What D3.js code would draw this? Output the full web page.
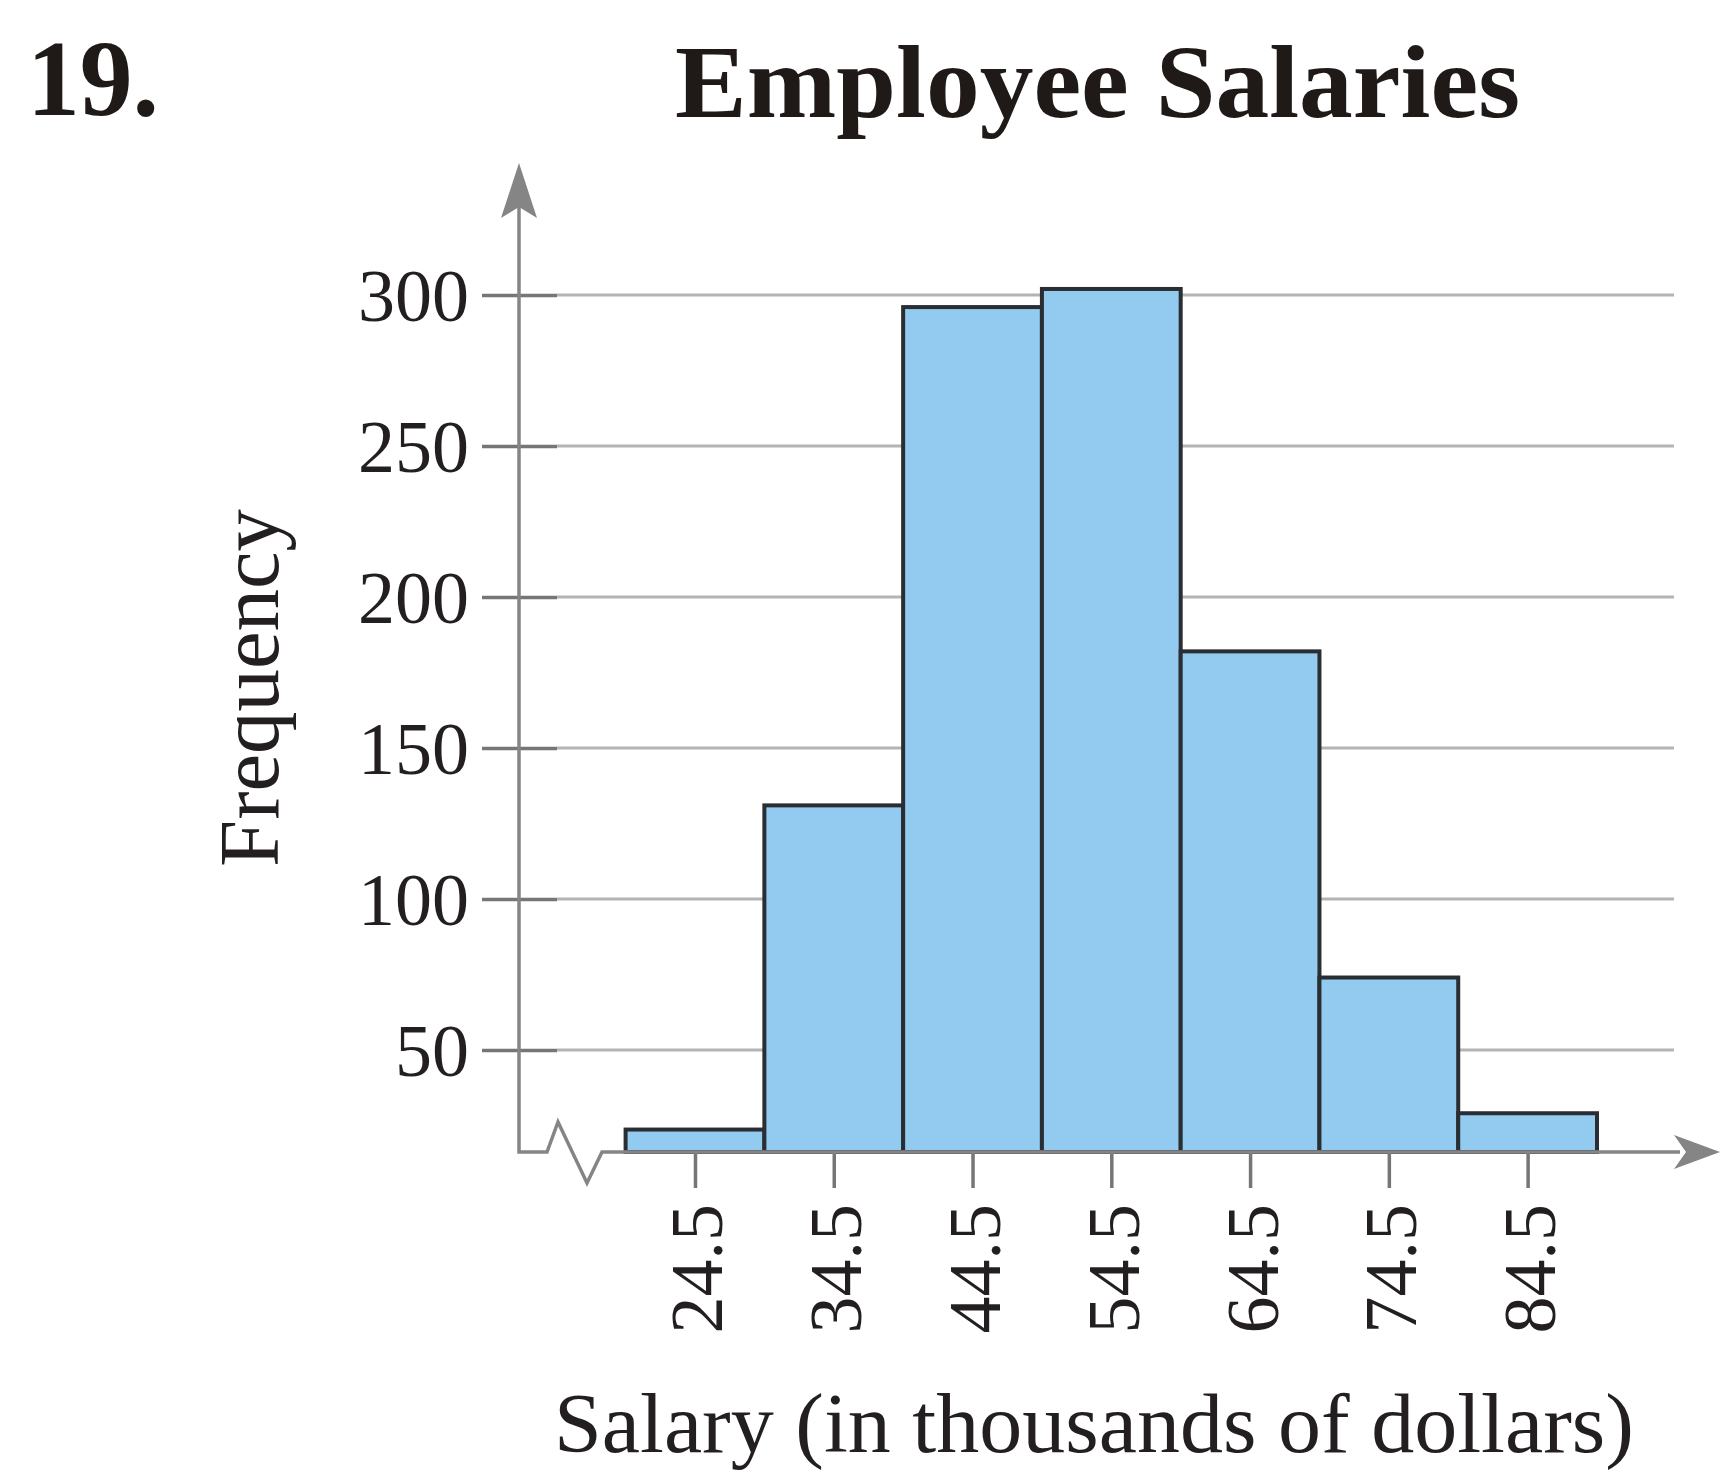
<!DOCTYPE html>
<html>
<head>
<meta charset="utf-8">
<script src="https://cdn.jsdelivr.net/npm/d3@7/dist/d3.min.js"></script>
<style>
  html, body { margin: 0; padding: 0; background: #ffffff; }
  svg { display: block; }
  text { font-family: "Liberation Serif", "DejaVu Serif", serif; }
</style>
</head>
<body>
<div id="chart"></div>
<script>
// ---- data ----
const midpoints = [24.5, 34.5, 44.5, 54.5, 64.5, 74.5, 84.5];
const frequencies = [11, 131, 296, 302, 182, 74, 19];
const yTickValues = [50, 100, 150, 200, 250, 300];
const xTickLabels = ["24.5", "34.5", "44.5", "54.5", "64.5", "74.5", "84.5"];
const classWidth = 10;
const chartTitle = "Employee Salaries";
const exerciseNumber = "19.";
const xTitle = "Salary (in thousands of dollars)";
const yTitle = "Frequency";

// ---- layout ----
const W = 1721, H = 1475;
const axisX = 519, baseY = 1152;
const gridRight = 1674;

const svg = d3.select("#chart").append("svg")
  .attr("width", W).attr("height", H);

const x = d3.scaleLinear().domain([19.5, 89.5]).range([625.6, 1597]);
// baseline is frequency 0; the 0–50 segment is drawn compressed, as in the original
const y = d3.scaleLinear().domain([0, 50, 300]).range([baseY, 1050, 295]);

const axisColor = "#858585";
const textColor = "#231f20";

// gridlines
svg.append("g").selectAll("line").data(yTickValues).join("line")
  .attr("x1", axisX + 38).attr("x2", gridRight)
  .attr("y1", d => y(d)).attr("y2", d => y(d))
  .attr("stroke", "#b4b4b4").attr("stroke-width", 3);

// bars
svg.append("g").selectAll("rect").data(midpoints).join("rect")
  .attr("x", d => x(d - classWidth / 2))
  .attr("width", d => x(d + classWidth / 2) - x(d - classWidth / 2))
  .attr("y", (d, i) => y(frequencies[i]))
  .attr("height", (d, i) => baseY - y(frequencies[i]))
  .attr("fill", "#92cbef")
  .attr("stroke", "#2a2d31")
  .attr("stroke-width", 4);

// y axis (ticks + labels)
const yAxis = svg.append("g")
  .attr("transform", `translate(${axisX},0)`)
  .call(d3.axisLeft(y).tickValues(yTickValues).tickSize(37).tickPadding(14));
yAxis.select(".domain").remove();
yAxis.selectAll(".tick line")
  .attr("x1", 38).attr("x2", -37)
  .attr("stroke", "#767676").attr("stroke-width", 3.5);
yAxis.selectAll(".tick text")
  .attr("font-size", 74)
  .attr("fill", textColor)
  .attr("dy", null)
  .attr("y", 25)
  .attr("x", -50);

// x axis (ticks + labels)
const xAxis = svg.append("g")
  .attr("transform", `translate(0,${baseY})`)
  .call(d3.axisBottom(x).tickValues(midpoints).tickSize(36).tickFormat((d, i) => xTickLabels[i]));
xAxis.select(".domain").remove();
xAxis.selectAll(".tick line").attr("stroke", "#767676").attr("stroke-width", 3.5);
xAxis.selectAll(".tick text")
  .attr("font-size", 74)
  .attr("fill", textColor)
  .attr("text-anchor", "end")
  .attr("dy", null)
  .attr("y", null)
  .attr("transform", "translate(27,52) rotate(-90)");

// axis lines with break and arrows
const axisLine = d3.line();
svg.append("path")
  .attr("d", axisLine([[axisX, 207], [axisX, baseY], [547, baseY], [558, 1122], [587, 1183], [602, baseY], [1680, baseY]]))
  .attr("fill", "none").attr("stroke", axisColor).attr("stroke-width", 3.5)
  .attr("stroke-linejoin", "miter");
// y arrow
svg.append("path")
  .attr("d", axisLine([[axisX, 163], [axisX + 18, 218], [axisX, 207], [axisX - 18, 218]]) + "Z")
  .attr("fill", axisColor);
// x arrow
svg.append("path")
  .attr("d", axisLine([[1720, baseY], [1674, baseY + 17], [1686, baseY], [1674, baseY - 17]]) + "Z")
  .attr("fill", axisColor);

// titles
svg.append("text")
  .attr("x", 27).attr("y", 115)
  .attr("font-size", 107).attr("font-weight", "bold")
  .attr("fill", "#1f1a17")
  .attr("textLength", 132).attr("lengthAdjust", "spacingAndGlyphs")
  .text(exerciseNumber);

svg.append("text")
  .attr("x", 675).attr("y", 117)
  .attr("font-size", 104).attr("font-weight", "bold")
  .attr("fill", "#1f1a17")
  .attr("textLength", 845).attr("lengthAdjust", "spacingAndGlyphs")
  .text(chartTitle);

svg.append("text")
  .attr("transform", "translate(278,867) rotate(-90)")
  .attr("font-size", 85)
  .attr("fill", textColor)
  .attr("textLength", 358).attr("lengthAdjust", "spacingAndGlyphs")
  .text(yTitle);

svg.append("text")
  .attr("x", 554).attr("y", 1452)
  .attr("font-size", 85)
  .attr("fill", textColor)
  .attr("textLength", 1080).attr("lengthAdjust", "spacingAndGlyphs")
  .text(xTitle);
</script>
</body>
</html>
